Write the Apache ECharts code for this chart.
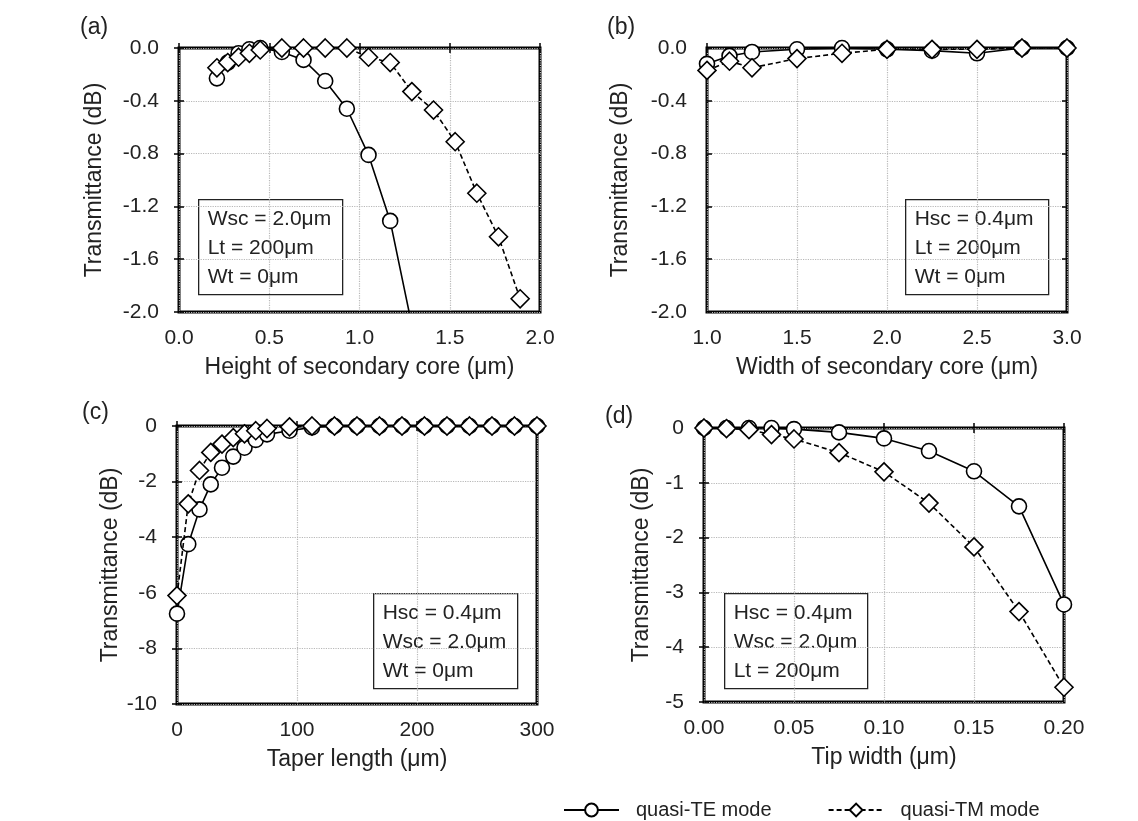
<!DOCTYPE html>
<html>
<head>
<meta charset="utf-8">
<script src="https://cdn.jsdelivr.net/npm/echarts@6/dist/echarts.min.js"></script>
<style>html,body{margin:0;padding:0;background:#fff;}#chart{width:1138px;height:821px;}</style>
</head>
<body>
<div id="chart"></div>
<script>
// ---- Data ----
// (a) Height of secondary core
var aTE_x = [0.21, 0.27, 0.33, 0.39, 0.45, 0.57, 0.69, 0.81, 0.93, 1.05, 1.17, 1.29];
var aTE_y = [-0.23, -0.11, -0.04, -0.01, 0.0, -0.03, -0.09, -0.25, -0.46, -0.81, -1.31, -2.10];
var aTM_x = [0.21, 0.27, 0.33, 0.39, 0.45, 0.57, 0.69, 0.81, 0.93, 1.05, 1.17, 1.29, 1.41, 1.53, 1.65, 1.77, 1.89];
var aTM_y = [-0.15, -0.11, -0.07, -0.04, -0.015, 0.0, 0.0, 0.0, 0.0, -0.07, -0.11, -0.33, -0.47, -0.71, -1.10, -1.43, -1.90];
// (b) Width of secondary core
var bX = [1.0, 1.125, 1.25, 1.5, 1.75, 2.0, 2.25, 2.5, 2.75, 3.0];
var bTE = [-0.12, -0.06, -0.03, -0.01, 0.0, -0.01, -0.02, -0.04, 0.0, 0.0];
var bTM = [-0.17, -0.10, -0.15, -0.08, -0.04, -0.01, -0.01, -0.01, 0.0, 0.0];
// (c) Taper length
var cX = [0, 9.375, 18.75, 28.125, 37.5, 46.875, 56.25, 65.625, 75, 93.75, 112.5, 131.25, 150, 168.75, 187.5, 206.25, 225, 243.75, 262.5, 281.25, 300];
var cTE = [-6.75, -4.25, -3.0, -2.1, -1.5, -1.1, -0.78, -0.5, -0.3, -0.17, -0.05, 0, 0, 0, 0, 0, 0, 0, 0, 0, 0];
var cTM = [-6.1, -2.8, -1.6, -0.95, -0.65, -0.42, -0.28, -0.17, -0.09, -0.03, 0, 0, 0, 0, 0, 0, 0, 0, 0, 0, 0];
// (d) Tip width
var dX = [0, 0.0125, 0.025, 0.0375, 0.05, 0.075, 0.1, 0.125, 0.15, 0.175, 0.2];
var dTE = [0, 0, 0, 0, -0.02, -0.08, -0.19, -0.42, -0.79, -1.43, -3.22];
var dTM = [0, -0.01, -0.03, -0.12, -0.2, -0.45, -0.8, -1.37, -2.17, -3.35, -4.73];

var panelLabels = ['(a)', '(b)', '(c)', '(d)'];
var xNames = ['Height of secondary core (\u03bcm)', 'Width of secondary core (\u03bcm)', 'Taper length (\u03bcm)', 'Tip width (\u03bcm)'];
var yName = 'Transmittance (dB)';
var boxTexts = [
  'Wsc = 2.0\u03bcm\nLt = 200\u03bcm\nWt = 0\u03bcm',
  'Hsc = 0.4\u03bcm\nLt = 200\u03bcm\nWt = 0\u03bcm',
  'Hsc = 0.4\u03bcm\nWsc = 2.0\u03bcm\nWt = 0\u03bcm',
  'Hsc = 0.4\u03bcm\nWsc = 2.0\u03bcm\nLt = 200\u03bcm'
];
var seriesNames = ['quasi-TE mode', 'quasi-TM mode'];

// ---- Layout ----
var FONT = '"Liberation Sans", Arial, sans-serif';
var grids = [
  {left: 179, top: 48, width: 361, height: 264},
  {left: 707, top: 48, width: 360, height: 264},
  {left: 177, top: 426, width: 360, height: 278},
  {left: 704, top: 428, width: 360, height: 274}
];
var xCfg = [
  {min: 0, max: 2, interval: 0.5, dec: 1},
  {min: 1, max: 3, interval: 0.5, dec: 1},
  {min: 0, max: 300, interval: 100, dec: 0},
  {min: 0, max: 0.2, interval: 0.05, dec: 2}
];
var yCfg = [
  {min: -2, max: 0, interval: 0.4, dec: 1},
  {min: -2, max: 0, interval: 0.4, dec: 1},
  {min: -10, max: 0, interval: 2, dec: 0},
  {min: -5, max: 0, interval: 1, dec: 0}
];
var yNameGap = [73, 75, 55, 51];
var boxes = [
  {left: 198, top: 199, w: 144, h: 95},
  {left: 905, top: 199, w: 143, h: 95},
  {left: 373, top: 593, w: 144, h: 95},
  {left: 724, top: 593, w: 143, h: 95}
];
var labelPos = [[80, 16], [607, 16], [82, 401], [605, 405]];

function pairs(xs, ys) { return xs.map(function (x, i) { return [x, ys[i]]; }); }
var panelData = [
  [pairs(aTE_x, aTE_y), pairs(aTM_x, aTM_y)],
  [pairs(bX, bTE), pairs(bX, bTM)],
  [pairs(cX, cTE), pairs(cX, cTM)],
  [pairs(dX, dTE), pairs(dX, dTM)]
];

var gridOpt = [], xAxes = [], yAxes = [], series = [], graphics = [];
grids.forEach(function (g, i) {
  gridOpt.push({left: g.left, top: g.top, width: g.width, height: g.height, show: true,
    borderColor: '#000', borderWidth: 3, backgroundColor: 'transparent', containLabel: false});
  var xc = xCfg[i], yc = yCfg[i];
  xAxes.push({
    type: 'value', gridIndex: i, min: xc.min, max: xc.max, interval: xc.interval,
    name: xNames[i], nameLocation: 'middle', nameGap: 44,
    nameTextStyle: {fontFamily: FONT, fontSize: 23, color: '#222'},
    axisLine: {show: false},
    axisTick: {show: true, inside: true, length: 5, lineStyle: {color: '#000', width: 1.5}},
    axisLabel: {fontFamily: FONT, fontSize: 21, color: '#222', margin: 16,
      formatter: (function (d) { return function (v) { return v.toFixed(d); }; })(xc.dec)},
    splitLine: {show: true, lineStyle: {color: '#b8b8b8', type: 'dotted', width: 1.2}}
  });
  yAxes.push({
    type: 'value', gridIndex: i, min: yc.min, max: yc.max, interval: yc.interval,
    name: yName, nameLocation: 'middle', nameGap: yNameGap[i], nameRotate: 90,
    nameTextStyle: {fontFamily: FONT, fontSize: 23, color: '#222'},
    axisLine: {show: false},
    axisTick: {show: true, inside: true, length: 5, lineStyle: {color: '#000', width: 1.5}},
    axisLabel: {fontFamily: FONT, fontSize: 21, color: '#222', margin: 20,
      formatter: (function (d) { return function (v) { var s = v.toFixed(d); return (parseFloat(s) === 0) ? (0).toFixed(d) : s; }; })(yc.dec)},
    splitLine: {show: true, lineStyle: {color: '#b8b8b8', type: 'dotted', width: 1.2}}
  });
});
// secondary axes for ticks on top / right
grids.forEach(function (g, i) {
  var xc = xCfg[i], yc = yCfg[i];
  xAxes.push({type: 'value', gridIndex: i, position: 'top', min: xc.min, max: xc.max, interval: xc.interval,
    axisLine: {show: false}, axisLabel: {show: false}, splitLine: {show: false},
    axisTick: {show: true, inside: true, length: 5, lineStyle: {color: '#000', width: 1.5}}});
  yAxes.push({type: 'value', gridIndex: i, position: 'right', min: yc.min, max: yc.max, interval: yc.interval,
    axisLine: {show: false}, axisLabel: {show: false}, splitLine: {show: false},
    axisTick: {show: true, inside: true, length: 5, lineStyle: {color: '#000', width: 1.5}}});
});
grids.forEach(function (g, i) {
  series.push({
    name: seriesNames[0], type: 'line', xAxisIndex: i, yAxisIndex: i, data: panelData[i][0],
    clip: true, symbol: 'circle', symbolSize: 15, z: 3,
    lineStyle: {color: '#000', width: 1.6, type: 'solid'},
    itemStyle: {color: '#fff', borderColor: '#000', borderWidth: 1.6},
    emphasis: {disabled: true}, animation: false
  });
  series.push({
    name: seriesNames[1], type: 'line', xAxisIndex: i, yAxisIndex: i, data: panelData[i][1],
    clip: true, symbol: 'diamond', symbolSize: 18, z: 4,
    lineStyle: {color: '#000', width: 1.6, type: [5, 3]},
    itemStyle: {color: '#fff', borderColor: '#000', borderWidth: 1.6},
    emphasis: {disabled: true}, animation: false
  });
  var b = boxes[i];
  graphics.push({type: 'group', left: b.left, top: b.top, z: 100, children: [
    {type: 'rect', shape: {x: 0, y: 0, width: b.w, height: b.h},
      style: {fill: '#fff', stroke: '#222', lineWidth: 1.3}},
    {type: 'text', x: 9, y: 5, style: {text: boxTexts[i], font: '21px ' + FONT,
      lineHeight: 29, fill: '#222', verticalAlign: 'top'}}
  ]});
  graphics.push({type: 'text', left: labelPos[i][0], top: labelPos[i][1], z: 100,
    style: {text: panelLabels[i], font: '23px ' + FONT, fill: '#222'}});
});

var chart = echarts.init(document.getElementById('chart'), null, {renderer: 'canvas'});
chart.setOption({
  backgroundColor: '#fff',
  animation: false,
  grid: gridOpt,
  xAxis: xAxes,
  yAxis: yAxes,
  series: series,
  graphic: graphics,
  legend: {
    data: seriesNames, left: 558, top: 795, itemWidth: 55, itemHeight: 16, itemGap: 56,
    textStyle: {fontFamily: FONT, fontSize: 20, color: '#222', padding: [0, 0, 0, 12]},
    selectedMode: false
  }
});
</script>
</body>
</html>
